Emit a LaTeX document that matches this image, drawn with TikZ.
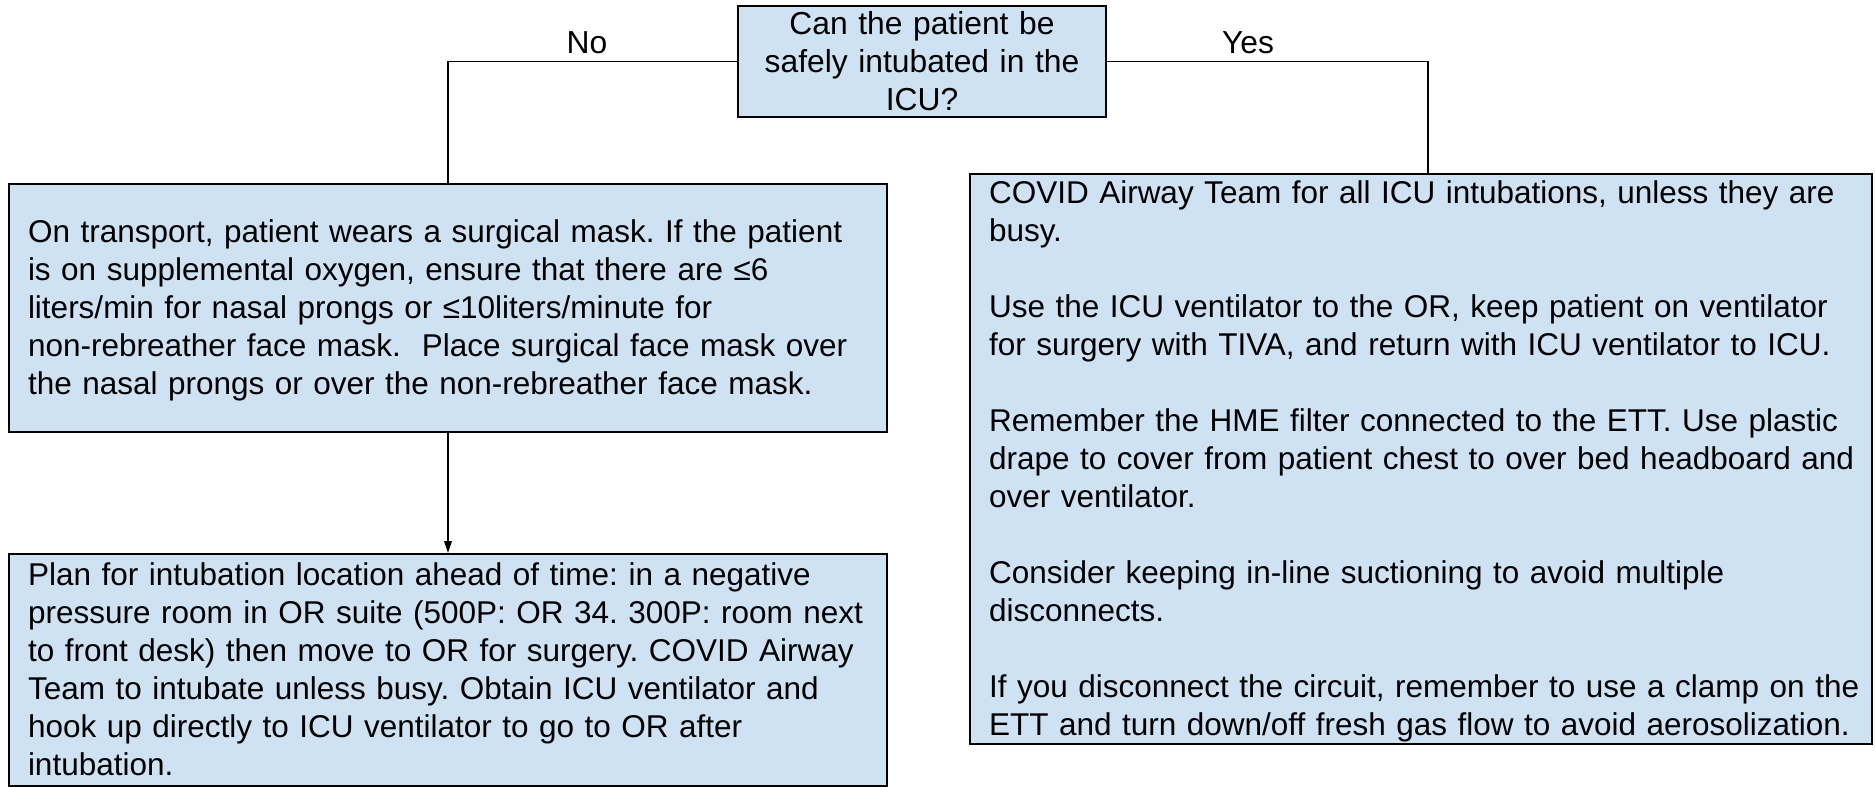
\documentclass[tikz,border=0pt]{standalone}
\usepackage{fontspec}
\setmainfont{Liberation Sans}
\usetikzlibrary{arrows.meta}
\definecolor{boxfill}{HTML}{CFE2F3}
\newcommand\tline[1]{\mbox{\rule[-4.2pt]{0pt}{19pt}#1}}
\frenchspacing
\begin{document}
\begin{tikzpicture}[x=0.5pt,y=-0.5pt,
  box/.style={draw=black, line width=1pt, fill=boxfill, rectangle,
    inner xsep=9.5pt, inner ysep=0pt, align=left,
    font=\fontsize{15.75pt}{19pt}\selectfont},
  lbl/.style={font=\fontsize{15.9pt}{19pt}\selectfont, inner sep=0pt},
  conn/.style={draw=black, line width=0.9pt}]
\useasboundingbox (0,0) rectangle (1875,787);

\node[box, align=center, text width=165pt, minimum height=55.5pt, inner ysep=-0.75pt,
      font=\fontsize{15.9pt}{19pt}\selectfont] (dec) at (922,61.5)
  {\tline{Can the patient be}\\\tline{safely intubated in the}\\\tline{ICU?}};

\node[box, text width=420pt, minimum height=124pt] (b1) at (448,308)
  {\tline{On transport, patient wears a surgical mask. If the patient}\\
   \tline{is on supplemental oxygen, ensure that there are ≤6}\\
   \tline{liters/min for nasal prongs or ≤10liters/minute for}\\
   \tline{non-rebreather face mask.\ \ Place surgical face mask over}\\
   \tline{the nasal prongs or over the non-rebreather face mask.}};

\node[box, text width=420pt, minimum height=116pt] (b2) at (448,670)
  {\tline{Plan for intubation location ahead of time: in a negative}\\
   \tline{pressure room in OR suite (500P: OR 34. 300P: room next}\\
   \tline{to front desk) then move to OR for surgery. COVID Airway}\\
   \tline{Team to intubate unless busy. Obtain ICU ventilator and}\\
   \tline{hook up directly to ICU ventilator to go to OR after}\\
   \tline{intubation.}};

\node[box, text width=432pt, minimum height=284.5pt] (b3) at (1421,458.5)
  {\tline{COVID Airway Team for all ICU intubations, unless they are}\\
   \tline{busy.}\\
   \tline{}\\
   \tline{Use the ICU ventilator to the OR, keep patient on ventilator}\\
   \tline{for surgery with TIVA, and return with ICU ventilator to ICU.}\\
   \tline{}\\
   \tline{Remember the HME filter connected to the ETT. Use plastic}\\
   \tline{drape to cover from patient chest to over bed headboard and}\\
   \tline{over ventilator.}\\
   \tline{}\\
   \tline{Consider keeping in-line suctioning to avoid multiple}\\
   \tline{disconnects.}\\
   \tline{}\\
   \tline{If you disconnect the circuit, remember to use a clamp on the}\\
   \tline{ETT and turn down/off fresh gas flow to avoid aerosolization.}};

\node[lbl] (no) at (587,43) {No};
\node[lbl] (yes) at (1248,43) {Yes};

\draw[conn] (dec.west) -| (b1.north);
\draw[conn] (dec.east) -| ([xshift=3.5pt]b3.north);
\draw[conn, -{Triangle[length=6pt,width=3.8pt]}] (b1.south) -- (b2.north);
\end{tikzpicture}
\end{document}
